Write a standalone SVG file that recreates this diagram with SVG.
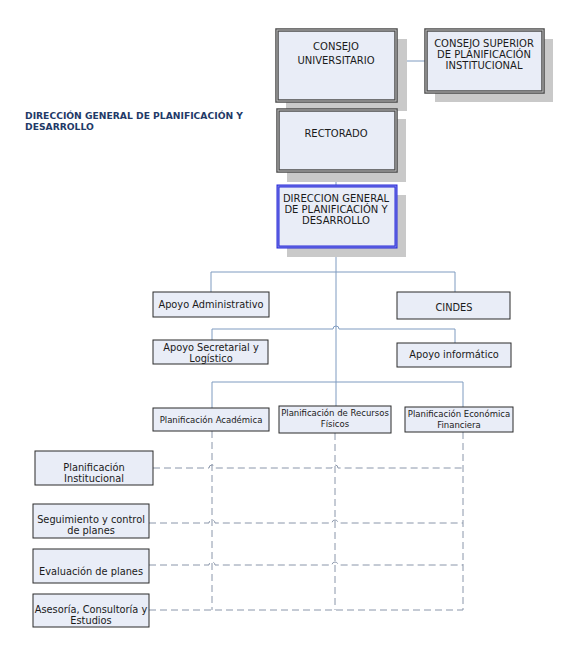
<svg xmlns="http://www.w3.org/2000/svg" width="565" height="661" viewBox="0 0 565 661">
<style>
.shadow{fill:#c9c9c9}
.box{fill:#e9edf7;stroke:#2b2b2b;stroke-width:1}
.dbl{fill:#e9edf7;stroke:#4a4a4a;stroke-width:3.5}
.dbl-in{fill:none;stroke:#c4c4c4;stroke-width:1}
.blue{fill:#e9edf7;stroke:#2828d8;stroke-width:3}
.blue-in{fill:none;stroke:#8f98ee;stroke-width:0.8}
.t{font-family:"DejaVu Sans",Verdana,sans-serif;font-size:9.8px;fill:#1a1a1a;text-anchor:middle}
.k{font-size:10px}
.s{font-size:8.5px}
.title{font-family:"DejaVu Sans",Verdana,sans-serif;font-size:9.2px;font-weight:bold;fill:#1f3a68}
.c{fill:none;stroke:#7f9bc0;stroke-width:1}
.d{fill:none;stroke:#8a96aa;stroke-width:1;stroke-dasharray:7,4}
</style>
<g id="title"><text class="title" x="25" y="119">DIRECCIÓN GENERAL DE PLANIFICACIÓN Y</text><text class="title" x="25" y="130">DESARROLLO</text></g>
<g id="connectors">
<path class="c" d="M396 61H425"/>
<path class="c" d="M336 101V109M336 171V185M336 247V406"/>
<path class="c" d="M211 292V272H455V292"/>
<path class="c" d="M212 340V329H333A3 3 0 0 1 339 329H455V343"/>
<path class="c" d="M212 408V382H463V407"/>
<path class="d" d="M212 431V610M335 433V610M463 432V610"/>
<path class="d" d="M153 468H209A3 3 0 0 1 215 468H332A3 3 0 0 1 338 468H463"/>
<path class="d" d="M149 523H209A3 3 0 0 1 215 523H332A3 3 0 0 1 338 523H463"/>
<path class="d" d="M149 565H209A3 3 0 0 1 215 565H332A3 3 0 0 1 338 565H463"/>
<path class="d" d="M149 610H463"/>
</g>
<g id="consejo-universitario"><rect class="shadow" x="286" y="39" width="121" height="72"/><rect class="dbl" x="277" y="30" width="119" height="71"/><rect class="dbl-in" x="277" y="30" width="119" height="71"/><text class="t k" x="336" y="50">CONSEJO</text><text class="t k" x="336" y="64">UNIVERSITARIO</text></g>
<g id="consejo-superior"><rect class="shadow" x="435" y="39" width="118" height="63"/><rect class="dbl" x="426" y="30" width="117" height="62"/><rect class="dbl-in" x="426" y="30" width="117" height="62"/><text class="t k" x="484" y="47">CONSEJO SUPERIOR</text><text class="t k" x="484" y="58">DE PLANIFICACIÓN</text><text class="t k" x="484" y="69">INSTITUCIONAL</text></g>
<g id="rectorado"><rect class="shadow" x="287" y="119" width="119" height="63"/><rect class="dbl" x="278" y="110" width="118" height="61"/><rect class="dbl-in" x="278" y="110" width="118" height="61"/><text class="t k" x="336" y="137">RECTORADO</text></g>
<g id="direccion"><rect class="shadow" x="287" y="195" width="119" height="62"/><rect class="blue" x="278" y="186" width="118" height="61"/><rect class="blue-in" x="278" y="186" width="118" height="61"/><text class="t k" x="336" y="202">DIRECCION GENERAL</text><text class="t k" x="336" y="213">DE PLANIFICACIÓN Y</text><text class="t k" x="336" y="224">DESARROLLO</text></g>
<g id="apoyo-administrativo"><rect class="box" x="153" y="292" width="116" height="25"/><text class="t" x="211" y="308">Apoyo Administrativo</text></g>
<g id="cindes"><rect class="box" x="397" y="292" width="113" height="27"/><text class="t" x="454" y="311">CINDES</text></g>
<g id="apoyo-secretarial"><rect class="box" x="153" y="340" width="115" height="24"/><text class="t" x="211" y="351">Apoyo Secretarial y</text><text class="t" x="211" y="362">Logístico</text></g>
<g id="apoyo-informatico"><rect class="box" x="397" y="343" width="114" height="24"/><text class="t" x="454" y="358">Apoyo informático</text></g>
<g id="plan-academica"><rect class="box" x="153" y="408" width="116" height="23"/><text class="t s" x="211" y="423">Planificación Académica</text></g>
<g id="plan-recursos"><rect class="box" x="279" y="406" width="112" height="27"/><text class="t s" x="335" y="416">Planificación de Recursos</text><text class="t s" x="335" y="427">Físicos</text></g>
<g id="plan-economica"><rect class="box" x="405" y="407" width="108" height="25"/><text class="t s" x="459" y="417">Planificación Económica</text><text class="t s" x="459" y="428">Financiera</text></g>
<g id="plan-institucional"><rect class="box" x="35" y="451" width="118" height="34"/><text class="t" x="94" y="471">Planificación</text><text class="t" x="94" y="482">Institucional</text></g>
<g id="seguimiento"><rect class="box" x="33" y="504" width="116" height="34"/><text class="t" x="91" y="523">Seguimiento y control</text><text class="t" x="91" y="534">de planes</text></g>
<g id="evaluacion"><rect class="box" x="33" y="549" width="116" height="34"/><text class="t" x="91" y="575">Evaluación de planes</text></g>
<g id="asesoria"><rect class="box" x="33" y="594" width="116" height="33"/><text class="t" x="91" y="613">Asesoría, Consultoría y</text><text class="t" x="91" y="624">Estudios</text></g>
</svg>
